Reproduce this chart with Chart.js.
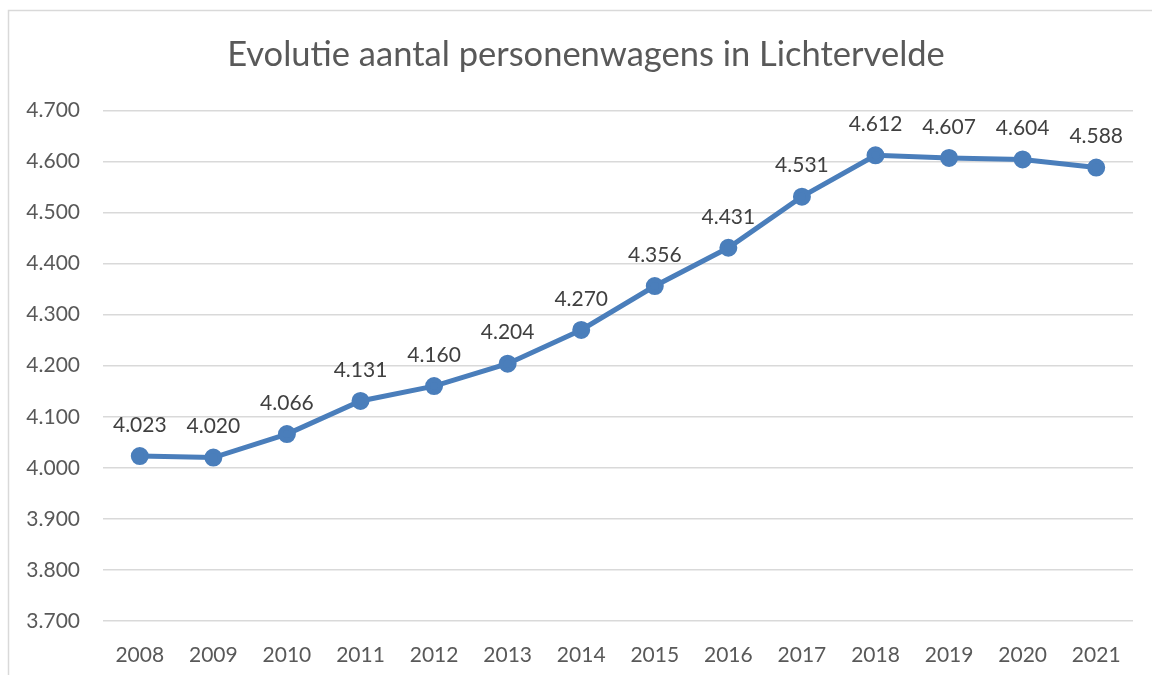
<!DOCTYPE html>
<html><head><meta charset="utf-8">
<script src="https://cdn.jsdelivr.net/npm/chart.js@4/dist/chart.umd.min.js"></script>
<style>html,body{margin:0;padding:0;background:#fff;overflow:hidden}#wrap{position:relative;width:1152px;height:675px}</style>
</head><body><div id="wrap"><canvas id="c" width="1152" height="675"></canvas></div>
<script>
const categories = ["2008","2009","2010","2011","2012","2013","2014","2015","2016","2017","2018","2019","2020","2021"];
const values = [4023,4020,4066,4131,4160,4204,4270,4356,4431,4531,4612,4607,4604,4588];
const yMin = 3700, yMax = 4700, yStep = 100;
const titleText = "Evolutie aantal personenwagens in Lichtervelde";
const FONT = "Lato";
const fmt = v => { const s = String(Math.round(v)); return s.length > 3 ? s.slice(0, s.length-3) + "." + s.slice(-3) : s; };

const frame = { id:'frame', beforeDraw(chart){ const c = chart.ctx; c.save(); c.strokeStyle='#d9d9d9'; c.lineWidth=1.5; c.beginPath(); c.moveTo(8.5,675); c.lineTo(8.5,10.5); c.lineTo(1152,10.5); c.stroke(); c.restore(); } };
const labels = { id:'labels', afterDatasetsDraw(chart){ const c = chart.ctx; const meta = chart.getDatasetMeta(0); c.save(); c.fillStyle='#404040'; c.font = '21px ' + FONT; c.textAlign='center'; c.textBaseline='middle'; meta.data.forEach((p,i)=>{ c.fillText(fmt(values[i]), p.x, p.y - 31); }); c.restore(); } };

new Chart(document.getElementById('c'), {
  type:'line',
  data:{ labels:categories, datasets:[{ data:values, borderColor:'#4a7ebb', backgroundColor:'#4a7ebb', borderWidth:5, pointRadius:6.5, pointHoverRadius:6.5, tension:0, fill:false }] },
  options:{
    responsive:false, animation:false, devicePixelRatio:1,
    layout:{ padding:{ left:20, right:0, top:0, bottom:0 } },
    plugins:{ legend:{display:false}, tooltip:{enabled:false},
      title:{ display:true, text:titleText, color:'#595959', font:{ family:FONT, size:34.5, weight:'normal' }, padding:{ top:34, bottom:35 } } },
    scales:{
      x:{ offset:true, grid:{ display:false }, border:{ display:false },
          ticks:{ color:'#595959', font:{ family:FONT, size:21 }, padding:14, maxRotation:0 },
          afterFit(s){ s.height = 54; } },
      y:{ min:yMin, max:yMax, grid:{ color:'#d9d9d9', lineWidth:1.5, drawTicks:false }, border:{ display:false },
          ticks:{ stepSize:yStep, color:'#595959', font:{ family:FONT, size:21 }, padding:23, callback:v=>fmt(v) },
          afterFit(s){ s.width = 83; } },
      yRight:{ type:'linear', position:'right', display:true, min:yMin, max:yMax, grid:{ display:false }, border:{ display:false },
          ticks:{ display:false }, afterFit(s){ s.width = 19; } }
    }
  },
  plugins:[frame, labels]
});
</script></body></html>
